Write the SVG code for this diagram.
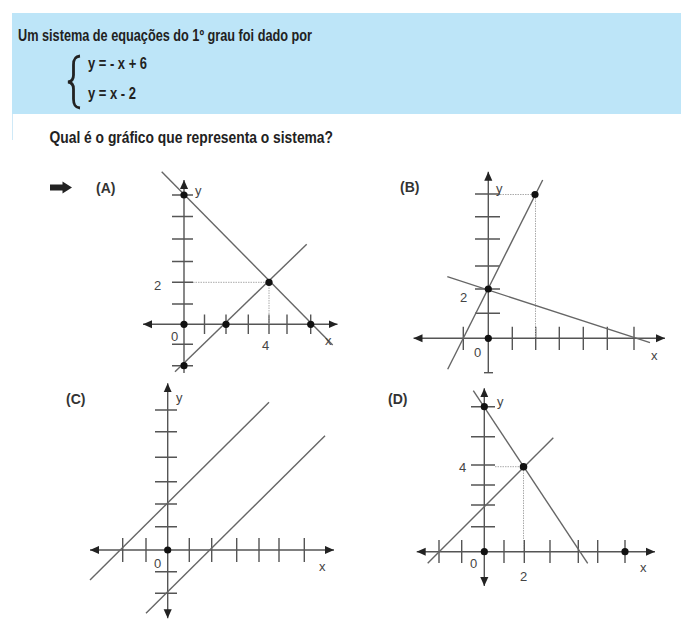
<svg xmlns="http://www.w3.org/2000/svg" width="681" height="621" viewBox="0 0 681 621">
<defs>
<marker id="ah" viewBox="0 0 10 10" refX="10" refY="5" markerWidth="9" markerHeight="9" markerUnits="userSpaceOnUse" orient="auto-start-reverse">
<path d="M0,0.5 L10,5 L0,9.5 z" fill="#222"/>
</marker>
<style>
.ax{stroke:#555;stroke-width:1.4;fill:none}
.tk{stroke:#555;stroke-width:1.4;fill:none}
.ln{stroke:#666;stroke-width:1.4;fill:none}
.dt{stroke:#aaa;stroke-width:1;stroke-dasharray:1.5 1;fill:none}
.dot{fill:#111}
.lbl{font-family:"Liberation Sans",Arial,sans-serif;font-size:13px;fill:#444}
.opt{font-family:"Liberation Sans",Arial,sans-serif;font-size:14px;font-weight:bold;fill:#333}
.hd{font-family:"Liberation Sans Narrow","Liberation Sans",Arial,sans-serif;font-size:16px;font-weight:bold;fill:#222}
</style>
</defs>
<rect width="681" height="621" fill="#fff"/>
<g id="header">
<rect x="12" y="13" width="669" height="101" fill="#bde5f8"/>
<line x1="12.5" y1="114" x2="12.5" y2="140" stroke="#cfe9f7" stroke-width="1"/>
<text class="hd" x="18" y="41" textLength="294" lengthAdjust="spacingAndGlyphs">Um sistema de equações do 1º grau foi dado por</text>
<path d="M80,56 C74.5,56.5 73.5,60 73.5,65 L73.5,75 C73.5,79.5 72,81.5 68,82 C72,82.5 73.5,84.5 73.5,89 L73.5,99 C73.5,104 74.5,107.5 80,108" fill="none" stroke="#222" stroke-width="2.8"/>
<text class="hd" x="88" y="69" textLength="59" lengthAdjust="spacingAndGlyphs">y = - x + 6</text>
<text class="hd" x="88" y="99" textLength="48" lengthAdjust="spacingAndGlyphs">y = x - 2</text>
<text class="hd" x="49.5" y="143" textLength="283.5" lengthAdjust="spacingAndGlyphs">Qual é o gráfico que representa o sistema?</text>
</g>
<g id="pointer">
<path d="M50,184.5 L62.5,184.5 L62.5,181.5 L72,187.5 L62.5,193.5 L62.5,190.5 L50,190.5 z" fill="#222"/>
</g>
<g id="graphA">
<text class="opt" x="96" y="193">(A)</text>
<line class="ax" x1="184" y1="373" x2="184" y2="180" marker-end="url(#ah)"/>
<line class="ax" x1="143" y1="324.3" x2="337.5" y2="324.3" marker-start="url(#ah)" marker-end="url(#ah)"/>
<path class="tk" d="M172,195H193M172,216.5H193M172,239H193M172,261.5H193M172,282.3H193M172,304H193M172,344.3H193M172,365.7H193"/>
<path class="tk" d="M204.5,314.5V334M226,314.5V334M248.3,314.5V334M269,314.5V334M287,314.5V334M310.7,314.5V334"/>
<path class="dt" d="M193,282.3H266M269,285V324"/>
<line class="ln" x1="161.7" y1="171.7" x2="332.7" y2="345"/>
<line class="ln" x1="175" y1="371.7" x2="306.7" y2="244.3"/>
<circle class="dot" cx="184" cy="195" r="3.6"/>
<circle class="dot" cx="184" cy="324.3" r="3.6"/>
<circle class="dot" cx="226" cy="324.3" r="3.6"/>
<circle class="dot" cx="269" cy="282.3" r="3.6"/>
<circle class="dot" cx="310.7" cy="324.3" r="3.6"/>
<circle class="dot" cx="184" cy="365.7" r="3.6"/>
<text class="lbl" x="195" y="195">y</text>
<text class="lbl" x="325" y="345">x</text>
<text class="lbl" x="171" y="341">0</text>
<text class="lbl" x="262" y="350">4</text>
<text class="lbl" x="154" y="290">2</text>
</g>
<g id="graphB">
<text class="opt" x="400" y="192">(B)</text>
<line class="ax" x1="488.3" y1="372.7" x2="488.3" y2="171.7" marker-end="url(#ah)"/>
<line class="ax" x1="484" y1="372.7" x2="493" y2="372.7"/>
<line class="ax" x1="413.5" y1="338.3" x2="665" y2="338.3" marker-start="url(#ah)" marker-end="url(#ah)"/>
<path class="tk" d="M475,194H500M475,216.7H500M475,239H500M475,266H500M475,289H500M475,313.3H500"/>
<path class="tk" d="M463.3,326.7V350M512.3,326.7V350M535.7,326.7V350M559.3,326.7V350M583.3,326.7V350M607.3,326.7V350M634,326.7V350"/>
<path class="dt" d="M500,194.5H532M535.5,198V338"/>
<line class="ln" x1="447.7" y1="369.3" x2="542.7" y2="180"/>
<line class="ln" x1="447.3" y1="276.7" x2="650" y2="342.7"/>
<circle class="dot" cx="535" cy="194.5" r="3.6"/>
<circle class="dot" cx="488.3" cy="289" r="3.6"/>
<circle class="dot" cx="488.3" cy="338.3" r="3.6"/>
<text class="lbl" x="496" y="193">y</text>
<text class="lbl" x="460" y="302">2</text>
<text class="lbl" x="474" y="357">0</text>
<text class="lbl" x="651" y="360">x</text>
</g>
<g id="graphC">
<text class="opt" x="66" y="404">(C)</text>
<line class="ax" x1="167.7" y1="618.3" x2="167.7" y2="383.3" marker-start="url(#ah)" marker-end="url(#ah)"/>
<line class="ax" x1="90" y1="550" x2="334" y2="550" marker-start="url(#ah)" marker-end="url(#ah)"/>
<path class="tk" d="M155,410H177M155,431.7H177M155,457.3H177M155,481.7H177M155,504H177M155,526.7H177M155,571.7H177M155,593.3H177"/>
<path class="tk" d="M122.7,538V562M146,538V562M189.3,538V562M211.7,538V562M236.7,538V562M259,538V562M279,538V562M304.3,538V562"/>
<line class="ln" x1="90" y1="580" x2="269" y2="402.3"/>
<line class="ln" x1="146" y1="613.3" x2="325" y2="435.7"/>
<circle class="dot" cx="167.7" cy="550" r="3.6"/>
<text class="lbl" x="176" y="402">y</text>
<text class="lbl" x="154" y="568">0</text>
<text class="lbl" x="319" y="571">x</text>
</g>
<g id="graphD">
<text class="opt" x="388" y="404">(D)</text>
<line class="ax" x1="484.3" y1="586" x2="484.3" y2="388.3" marker-start="url(#ah)" marker-end="url(#ah)"/>
<line class="ax" x1="416.7" y1="551.7" x2="655" y2="551.7" marker-start="url(#ah)" marker-end="url(#ah)"/>
<path class="tk" d="M471,406.7H495M471,436.7H495M471,465H495M471,485H495M471,505H495M471,526.7H495"/>
<path class="tk" d="M439,540V563M461.7,540V563M504,540V563M524.3,540V563M550,540V563M578.3,540V563M597.7,540V563M625,540V563"/>
<path class="dt" d="M495,466.7H520M523.5,470V551"/>
<line class="ln" x1="473.3" y1="390.7" x2="587.7" y2="563.3"/>
<line class="ln" x1="427.7" y1="563.3" x2="553.3" y2="437.7"/>
<circle class="dot" cx="484.3" cy="406.7" r="3.6"/>
<circle class="dot" cx="523.5" cy="466.7" r="3.8"/>
<circle class="dot" cx="484.3" cy="551.7" r="3.6"/>
<circle class="dot" cx="625" cy="551.7" r="3.6"/>
<text class="lbl" x="497" y="406">y</text>
<text class="lbl" x="459" y="472">4</text>
<text class="lbl" x="470" y="568">0</text>
<text class="lbl" x="520" y="581">2</text>
<text class="lbl" x="640" y="572">x</text>
</g>
</svg>
